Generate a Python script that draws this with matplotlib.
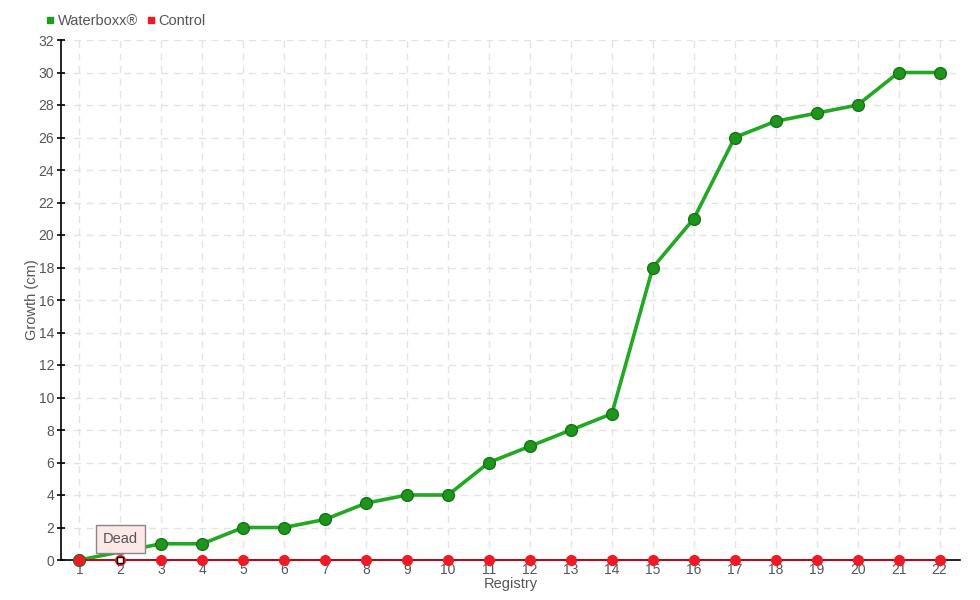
import matplotlib
matplotlib.use("Agg")
import matplotlib.pyplot as plt
from matplotlib.lines import Line2D

categories = list(range(1, 23))
waterboxx = [0, 0.5, 1, 1, 2, 2, 2.5, 3.5, 4, 4, 6, 7, 8, 9, 18, 21, 26, 27, 27.5, 28, 30, 30]
control = [0] * 22
y_ticks = list(range(0, 33, 2))

plt.rcParams['font.family'] = ['Liberation Sans', 'DejaVu Sans']
txt = '#555555'
fs = 10.5

fig = plt.figure(figsize=(9.8, 6), dpi=100)
ax = fig.add_axes([61/980, 40/600, (960-61)/980, (560-40)/600])

ax.set_xlim(0.55, 22.5)
ax.set_ylim(0, 32)
ax.set_xticks(categories)
ax.set_xticklabels([str(c) for c in categories])
ax.set_yticks(y_ticks)

ax.grid(True, color='#e3e3e3', linestyle=(0, (5, 4)), linewidth=1)
ax.set_axisbelow(True)

for s in ['top', 'right']:
    ax.spines[s].set_visible(False)
for s in ['left', 'bottom']:
    ax.spines[s].set_color('black')
    ax.spines[s].set_linewidth(1.2)

ax.tick_params(axis='y', direction='inout', length=6, width=1.2, colors='black',
               labelcolor=txt, labelsize=10, pad=2)
ax.tick_params(axis='x', length=0, labelcolor=txt, labelsize=10, pad=2)

ax.plot(categories, waterboxx, color='#22a822', linewidth=2.6, marker='o', markersize=8.5,
        markerfacecolor='#1e961e', markeredgecolor='#187318', markeredgewidth=1,
        markevery=[i for i in range(22) if i != 1], zorder=3, clip_on=False)
ax.plot(categories, control, color='#d40014', linewidth=1.3, marker='o', markersize=7,
        markerfacecolor='#ee1a26', markeredgecolor='#ee1a26', zorder=4, clip_on=False)
ax.plot([2], [0], marker='s', markersize=5, markerfacecolor='white',
        markeredgecolor='black', markeredgewidth=1, zorder=5, clip_on=False)

ax.annotate('Dead', xy=(2, 0.35), xytext=(2, 1.3), ha='center', va='center',
            fontsize=fs, color=txt,
            bbox=dict(boxstyle='square,pad=0.5', facecolor='#fde8e8', edgecolor='#888888', linewidth=1),
            arrowprops=dict(arrowstyle='wedge,tail_width=0.5', facecolor='#fde8e8',
                            edgecolor='#888888', lw=1, shrinkA=0, shrinkB=0),
            zorder=6)

ax.set_ylabel('Growth (cm)', color=txt, fontsize=fs)
ax.yaxis.set_label_coords(-0.025, 0.5)
ax.set_xlabel('Registry', color=txt, fontsize=fs, labelpad=0)

handles = [Line2D([], [], linestyle='none', marker='s', markersize=5, color='#1e9e1e'),
           Line2D([], [], linestyle='none', marker='s', markersize=5, color='#ee1a26')]
fig.legend(handles, ['Waterboxx®', 'Control'], loc='upper left', bbox_to_anchor=(46/980, 1 - 14/600),
           frameon=False, fontsize=fs, handlelength=0.6, handletextpad=0.2, columnspacing=0.6,
           ncol=2, labelcolor=txt, borderaxespad=0, borderpad=0)

fig.savefig('out.png', dpi=100)
